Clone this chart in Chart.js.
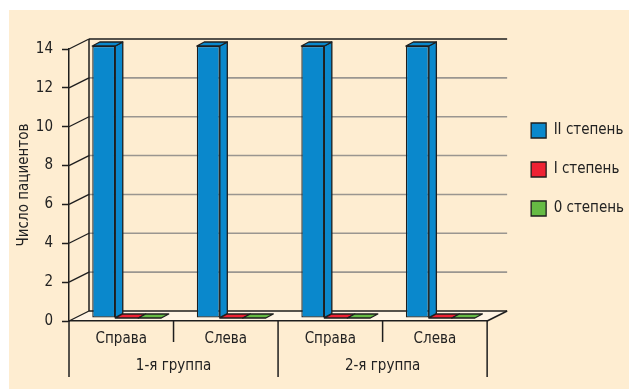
<!DOCTYPE html>
<html>
<head>
<meta charset="utf-8">
<script src="https://cdn.jsdelivr.net/npm/chart.js@4/dist/chart.umd.min.js"></script>
<style>
  html, body { margin: 0; padding: 0; background: #fff; }
  canvas { display: block; }
</style>
</head>
<body>
<canvas id="chart" width="629" height="389"></canvas>
<script>
// данные
const categories = ['Справа', 'Слева', 'Справа', 'Слева'];
const groups = ['1-я группа', '2-я группа'];
const seriesNames = ['II степень', 'I степень', '0 степень'];
const grade2 = [14, 14, 14, 14];
const grade1 = [0, 0, 0, 0];
const grade0 = [0, 0, 0, 0];
const yMin = 0, yMax = 14, yStep = 2;

const colors = ['#0a88cc', '#ee2233', '#66bb44'];
const cream = '#feedd1';
const dark = '#1e1e1e';
const wall = { dx: 20, dy: -10 };   // глубина стенки
const barShift = { dx: 5.5, dy: -3 }; // смещение столбцов внутрь
const barDepth = { dx: 7.5, dy: -4 };

Chart.defaults.font.family = "'DejaVu Sans Condensed', 'DejaVu Sans', sans-serif";
Chart.defaults.font.size = 15;
Chart.defaults.color = '#222';

const line = (ctx, x1, y1, x2, y2, color, w) => {
    ctx.beginPath();
    ctx.strokeStyle = color;
    ctx.lineWidth = w;
    ctx.moveTo(x1, y1);
    ctx.lineTo(x2, y2);
    ctx.stroke();
};

const poly = (ctx, pts, fill) => {
    ctx.beginPath();
    ctx.moveTo(pts[0][0], pts[0][1]);
    for (let i = 1; i < pts.length; i++) ctx.lineTo(pts[i][0], pts[i][1]);
    ctx.closePath();
    ctx.fillStyle = fill;
    ctx.fill();
    ctx.strokeStyle = dark;
    ctx.lineWidth = 1.3;
    ctx.lineJoin = 'round';
    ctx.stroke();
};

const box3d = {
    id: 'box3d',
    beforeDraw(chart) {
        const {ctx, chartArea: a, scales: {y}} = chart;
        ctx.save();
        ctx.fillStyle = '#fff';
        ctx.fillRect(0, 0, chart.width, chart.height);
        ctx.fillStyle = cream;
        ctx.fillRect(9, 10, chart.width - 9, chart.height - 10);

        // пол
        ctx.beginPath();
        ctx.moveTo(a.left, a.bottom);
        ctx.lineTo(a.right, a.bottom);
        ctx.lineTo(a.right + wall.dx, a.bottom + wall.dy);
        ctx.lineTo(a.left + wall.dx, a.bottom + wall.dy);
        ctx.closePath();
        ctx.fillStyle = '#fff4e4';
        ctx.fill();
        line(ctx, a.right, a.bottom, a.right + wall.dx, a.bottom + wall.dy, dark, 1.5);

        // задняя стенка и сетка
        y.ticks.forEach((t) => {
            const py = y.getPixelForValue(t.value);
            const edge = t.value === yMin || t.value === yMax;
            line(ctx, a.left + wall.dx, py + wall.dy, a.right + wall.dx, py + wall.dy,
                edge ? dark : '#9a9690', 1.6);
            line(ctx, a.left, py, a.left + wall.dx, py + wall.dy, dark, 1.3);
        });
        line(ctx, a.left + wall.dx, a.top + wall.dy, a.left + wall.dx, a.bottom + wall.dy, dark, 1.5);
        ctx.restore();
    },
    beforeDatasetsDraw(chart) {
        chart.ctx.save();
        chart.ctx.translate(barShift.dx, barShift.dy);
    },
    afterDatasetsDraw(chart) {
        const {ctx} = chart;
        chart.data.datasets.forEach((ds, i) => {
            chart.getDatasetMeta(i).data.forEach((bar) => {
                const l = bar.x - bar.width / 2, r = bar.x + bar.width / 2;
                const {dx, dy} = barDepth;
                if (bar.base - bar.y > 1) {
                    poly(ctx, [[r, bar.y], [r + dx, bar.y + dy], [r + dx, bar.base + dy], [r, bar.base]], ds.backgroundColor);
                }
                poly(ctx, [[l, bar.y], [l + dx, bar.y + dy], [r + dx, bar.y + dy], [r, bar.y]], ds.backgroundColor);
            });
        });
        ctx.restore();
    },
    afterDraw(chart) {
        const {ctx, chartArea: a, scales: {x}} = chart;
        ctx.save();
        const half = (x.getPixelForValue(1) - x.getPixelForValue(0)) / 2;
        for (let i = 0; i <= categories.length; i++) {
            const px = i < categories.length ? x.getPixelForValue(i) - half : x.getPixelForValue(i - 1) + half;
            const long = i % 2 === 0;
            line(ctx, px, a.bottom, px, long ? 377 : 342, dark, 1.5);
        }
        ctx.restore();
    }
};

new Chart(document.getElementById('chart'), {
    type: 'bar',
    data: {
        labels: categories,
        datasets: [
            { label: seriesNames[0], data: grade2, backgroundColor: colors[0] },
            { label: seriesNames[1], data: grade1, backgroundColor: colors[1] },
            { label: seriesNames[2], data: grade0, backgroundColor: colors[2] }
        ]
    },
    options: {
        responsive: false,
        animation: false,
        devicePixelRatio: 1,
        layout: { padding: { left: 11, top: 49, right: -5, bottom: 12 } },
        datasets: {
            bar: {
                categoryPercentage: 0.66,
                barPercentage: 1,
                borderColor: dark,
                borderWidth: 1.3,
                borderSkipped: false
            }
        },
        plugins: {
            legend: {
                position: 'right',
                align: 'start',
                title: { display: true, text: '', font: { size: 10 }, padding: { top: 38, bottom: 0 } },
                labels: {
                    boxWidth: 15,
                    boxHeight: 15,
                    padding: 24,
                    font: { size: 15 },
                    color: '#222'
                }
            },
            tooltip: { enabled: false }
        },
        scales: {
            x: {
                grid: { display: false, drawTicks: false },
                border: { display: true, color: dark, width: 1.5 },
                ticks: { padding: 9 },
                afterFit: (s) => { s.height = 30; }
            },
            x2: {
                type: 'category',
                labels: groups,
                offset: true,
                position: 'bottom',
                grid: { display: false, drawTicks: false },
                border: { display: false },
                ticks: { padding: 6 },
                afterFit: (s) => { s.height = 26; }
            },
            y: {
                min: yMin,
                max: yMax,
                ticks: { stepSize: yStep, padding: 9 },
                grid: { drawOnChartArea: false, drawTicks: true, tickLength: 7, tickColor: dark, tickWidth: 1.5 },
                border: { display: true, color: dark, width: 1.5 },
                title: { display: true, text: 'Число пациентов', padding: { top: 4, bottom: 4 } },
                afterFit: (s) => { s.width = 58; }
            },
            gap: {
                type: 'linear',
                position: 'right',
                display: false,
                afterFit: (s) => { s.width = 20; }
            }
        }
    },
    plugins: [box3d]
});
</script>
</body>
</html>
